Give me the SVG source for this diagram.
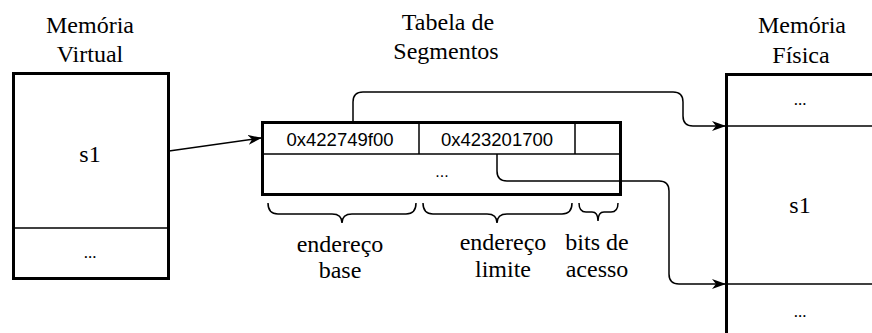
<svg xmlns="http://www.w3.org/2000/svg" width="872" height="333" viewBox="0 0 872 333">
<defs>
<style>
.box{fill:#fff;stroke:#000;stroke-width:3}
.div{stroke:#000;stroke-width:1.5;fill:none}
.con{stroke:#000;stroke-width:1.5;fill:none}
.serif{font-family:'Liberation Serif','Tinos','DejaVu Serif',serif;font-size:24px;fill:#000;text-anchor:middle}
.dots{font-family:'Liberation Serif','Tinos','DejaVu Serif',serif;font-size:17px;fill:#000;text-anchor:middle}
.sans{font-family:'Liberation Sans',sans-serif;font-size:18.5px;fill:#000;text-anchor:middle}
.sdots{font-family:'Liberation Sans',sans-serif;font-size:16px;fill:#000;text-anchor:middle}
</style>
<marker id="arr" viewBox="0 0 14 10" refX="13" refY="5" markerWidth="14" markerHeight="10" markerUnits="userSpaceOnUse" orient="auto">
<path d="M0,0 L14,5 L0,10 L4,5 Z" fill="#000"/>
</marker>
</defs>

<g id="virtual">
<text class="serif" x="90" y="33">Memória</text>
<text class="serif" x="90" y="62">Virtual</text>
<rect class="box" x="13.5" y="73.5" width="155" height="205"/>
<line class="div" x1="13" y1="228" x2="168" y2="228"/>
<text class="serif" x="90" y="162">s1</text>
<text class="dots" x="90" y="258">...</text>
</g>

<g id="tabela">
<text class="serif" x="448" y="30">Tabela de</text>
<text class="serif" x="446" y="59">Segmentos</text>
<rect class="box" x="262.5" y="122.5" width="358" height="72"/>
<line class="div" x1="262" y1="154" x2="621" y2="154"/>
<line class="div" x1="419" y1="122" x2="419" y2="154"/>
<line class="div" x1="575" y1="122" x2="575" y2="154"/>
<text class="sans" x="340" y="146">0x422749f00</text>
<text class="sans" x="497" y="146">0x423201700</text>
<text class="sdots" x="442" y="177">...</text>
</g>

<g id="fisica">
<text class="serif" x="802" y="33">Memória</text>
<text class="serif" x="801" y="63">Física</text>
<rect class="box" x="726.5" y="74.5" width="200" height="300"/>
<line class="div" x1="726" y1="126" x2="872" y2="126"/>
<line class="div" x1="726" y1="284" x2="872" y2="284"/>
<text class="dots" x="800" y="105">...</text>
<text class="serif" x="800" y="213">s1</text>
<text class="dots" x="800" y="317">...</text>
</g>

<g id="chaves">
<path class="con" d="M268,203 Q268,214 278,214 L332,214 Q342,214 342,223 Q342,214 352,214 L406,214 Q416,214 416,203"/>
<path class="con" d="M423,203 Q423,214 433,214 L487,214 Q497,214 497,223 Q497,214 507,214 L562,214 Q572,214 572,203"/>
<path class="con" d="M579,203 Q579,212 586,212 L592,212 Q598,212 598,221 Q598,212 604,212 L611,212 Q618,212 618,203"/>
<text class="serif" x="340" y="252">endereço</text>
<text class="serif" x="340" y="278">base</text>
<text class="serif" x="503" y="250">endereço</text>
<text class="serif" x="503" y="277">limite</text>
<text class="serif" x="597" y="250">bits de</text>
<text class="serif" x="597" y="277">acesso</text>
</g>

<g id="conectores">
<line class="con" x1="169" y1="151" x2="261" y2="138" marker-end="url(#arr)"/>
<path class="con" d="M353,122 L353,102 Q353,92 363,92 L673,92 Q683,92 683,102 L683,116 Q683,126 693,126 L725,126" marker-end="url(#arr)"/>
<path class="con" d="M497,154 L497,171 Q497,181 507,181 L659,181 Q669,181 669,191 L669,274 Q669,284 679,284 L725,284" marker-end="url(#arr)"/>
</g>
</svg>
